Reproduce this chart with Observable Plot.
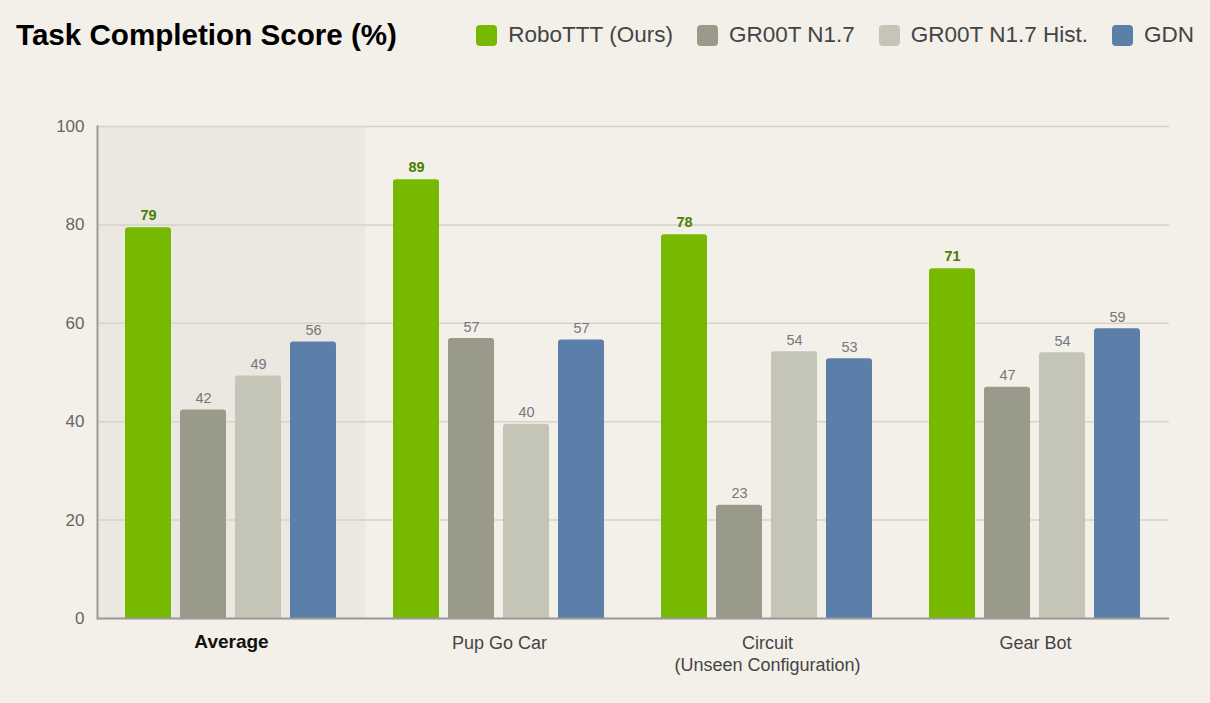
<!DOCTYPE html>
<html>
<head>
<meta charset="utf-8">
<script src="https://cdn.jsdelivr.net/npm/d3@7"></script>
<script src="https://cdn.jsdelivr.net/npm/@observablehq/plot@0.6"></script>
<style>
  html, body { margin: 0; padding: 0; background: #f3f0ea; }
  body { width: 1210px; height: 703px; overflow: hidden; font-family: "Liberation Sans", Arial, sans-serif; }
  #header { position: relative; height: 70px; }
  #title { position: absolute; left: 16px; top: 17px; font-size: 29.6px; font-weight: bold; color: #000; line-height: 36px; }
  #legend { position: absolute; right: 16px; top: 22px; display: flex; align-items: center; height: 26px; }
  .item { display: flex; align-items: center; margin-left: 24px; font-size: 22.5px; color: #444; }
  .sw { width: 21px; height: 21px; border-radius: 4px; margin-right: 11px; }
</style>
</head>
<body>
<div id="header"><div id="title">Task Completion Score (%)</div><div id="legend"></div></div>
<div id="chart"></div>
<script>
const groups = ["Average", "Pup Go Car", "Circuit", "Gear Bot"];
const groupLabels = ["Average", "Pup Go Car", "Circuit\n(Unseen Configuration)", "Gear Bot"];
const series = ["RoboTTT (Ours)", "GR00T N1.7", "GR00T N1.7 Hist.", "GDN"];
const robottt = [79.4, 89.2, 78.0, 71.1];
const gr00t = [42.4, 56.9, 23.0, 47.0];
const gr00tHist = [49.3, 39.5, 54.2, 54.0];
const gdn = [56.2, 56.6, 52.8, 58.9];
const yTicks = [0, 20, 40, 60, 80, 100];
const colors = ["#76b900", "#9a9a8b", "#c4c4b7", "#5b7fa8"];

const valuesBySeries = [robottt, gr00t, gr00tHist, gdn];
const data = [];
groups.forEach((g, gi) => series.forEach((s, si) => data.push({group: g, series: s, value: valuesBySeries[si][gi]})));
const labelRows = groups.map((g, i) => ({group: g, label: groupLabels[i]}));

// legend
const legend = document.getElementById("legend");
series.forEach((s, i) => {
  const it = document.createElement("div");
  it.className = "item";
  it.innerHTML = `<span class="sw" style="background:${colors[i]}"></span><span>${s}</span>`;
  legend.appendChild(it);
});

const font = "'Liberation Sans', Arial, sans-serif";
const chart = Plot.plot({
  width: 1210,
  height: 633,
  marginLeft: 96,
  marginRight: 41,
  marginTop: 56,
  marginBottom: 85,
  style: {background: "transparent", fontFamily: font, overflow: "visible"},
  fx: {domain: groups, padding: 0, axis: null},
  x: {domain: series, paddingInner: 0.161, paddingOuter: 0.486, axis: null},
  y: {domain: [0, 100], axis: null},
  color: {domain: series, range: colors},
  marks: [
    Plot.rect(labelRows.filter(d => d.group === "Average"), {fx: "group", fill: "#ebe8e2"}),
    Plot.gridY(yTicks, {stroke: "#d6d3cc", strokeOpacity: 1, strokeWidth: 1.5}),
    Plot.axisY({ticks: yTicks, label: null, tickSize: 0, tickPadding: 13, fontSize: 17, color: "#666", facetAnchor: "left", tickFormat: d => d}),
    Plot.barY(data, {fx: "group", x: "series", y: "value", fill: "series", rx: 3, insetBottom: -5, clip: true}),
    Plot.ruleY([0], {stroke: "#9a9a9a", strokeWidth: 2}),
    Plot.frame({anchor: "left", facetAnchor: "left", stroke: "#9a9a9a", strokeWidth: 2}),
    Plot.text(data.filter(d => d.series === series[0]), {fx: "group", x: "series", y: "value", text: d => Math.round(d.value), lineAnchor: "bottom", dy: -8, fontSize: 14.5, fontWeight: "bold", fill: "#4a7d00"}),
    Plot.text(data.filter(d => d.series !== series[0]), {fx: "group", x: "series", y: "value", text: d => Math.round(d.value), lineAnchor: "bottom", dy: -7, fontSize: 14.5, fill: "#777"}),
    Plot.text(labelRows.filter(d => d.group === "Average"), {fx: "group", text: "label", frameAnchor: "bottom", lineAnchor: "top", dy: 16, fontSize: 19, fontWeight: "bold", fill: "#111"}),
    Plot.text(labelRows.filter(d => d.group !== "Average"), {fx: "group", text: "label", frameAnchor: "bottom", lineAnchor: "top", dy: 16, fontSize: 18, lineHeight: 1.17, fill: "#444"})
  ]
});
document.getElementById("chart").appendChild(chart);
</script>
</body>
</html>
